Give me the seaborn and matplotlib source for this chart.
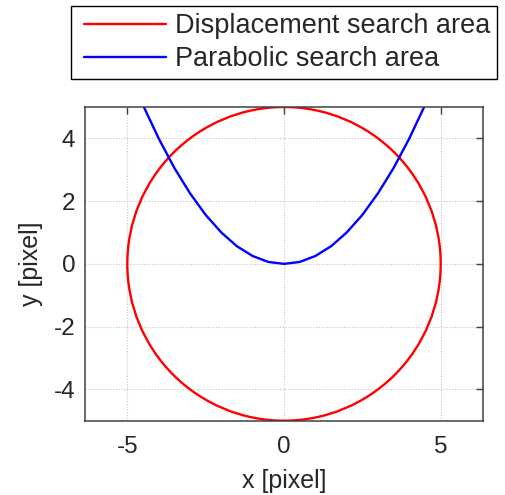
import matplotlib
matplotlib.use("Agg")
import matplotlib.pyplot as plt
from matplotlib.patches import Circle
from matplotlib.lines import Line2D
from matplotlib.legend_handler import HandlerLine2D
import seaborn as sns
import pandas as pd

# Parabolic search boundary, sampled every half pixel
para_x = [-5.0, -4.5, -4.0, -3.5, -3.0, -2.5, -2.0, -1.5, -1.0, -0.5, 0.0,
          0.5, 1.0, 1.5, 2.0, 2.5, 3.0, 3.5, 4.0, 4.5, 5.0]
para_y = [6.25, 5.06, 4.00, 3.06, 2.25, 1.56, 1.00, 0.56, 0.25, 0.06, 0.00,
          0.06, 0.25, 0.56, 1.00, 1.56, 2.25, 3.06, 4.00, 5.06, 6.25]

# Displacement search area: circle around the origin
circle_center = (0.0, 0.0)
circle_radius = 5.0

series_labels = ["Displacement search area", "Parabolic search area"]
x_ticks = [-5, 0, 5]
y_ticks = [-4, -2, 0, 2, 4]

sns.set_style("white")
plt.rcParams["font.family"] = ["Liberation Sans", "DejaVu Sans"]
plt.rcParams["axes.unicode_minus"] = False

fig = plt.figure(figsize=(5.06, 4.95), dpi=100)
ax = fig.add_axes([85 / 506, 1 - 420.7 / 495, (483 - 85) / 506, (420.7 - 107) / 495])

df = pd.DataFrame({"x": para_x, "y": para_y})
sns.lineplot(data=df, x="x", y="y", sort=False, color="#0000ff", lw=1.7, ax=ax)
ax.add_patch(Circle(circle_center, circle_radius, fill=False, ec="#ff0000", lw=1.7))

ax.set_xlim(-6.35, 6.35)
ax.set_ylim(-5, 5)
ax.set_xticks(x_ticks)
ax.set_yticks(y_ticks)
ax.grid(True, color="#c4c4c4", ls=(0, (1, 1.5)), lw=0.8)
ax.tick_params(direction="in", length=5, width=1, color="#404040",
               top=True, right=True, labelsize=17.5, pad=7)
ax.tick_params(axis="x", pad=11)
for s in ax.spines.values():
    s.set_color("#404040")
    s.set_linewidth(1.1)
    s.set_visible(True)

ax.set_xlabel("x [pixel]", fontsize=18, labelpad=8)
ax.set_ylabel("y [pixel]", fontsize=18, labelpad=8)

handles = [Line2D([], [], color="#ff0000", lw=1.7),
           Line2D([], [], color="#0000ff", lw=1.7)]
leg = fig.legend(handles, series_labels, loc="upper right",
                 bbox_to_anchor=(497 / 506, 1 - 6 / 495), borderaxespad=0,
                 fontsize=19.5, frameon=True, fancybox=False, framealpha=1,
                 edgecolor="black", handlelength=3.25, handletextpad=0.33,
                 labelspacing=0.27, borderpad=0.26,
                 handler_map={Line2D: HandlerLine2D(xpad=0.22)})
leg.get_frame().set_linewidth(1.0)

fig.savefig("out.png", dpi=100)
